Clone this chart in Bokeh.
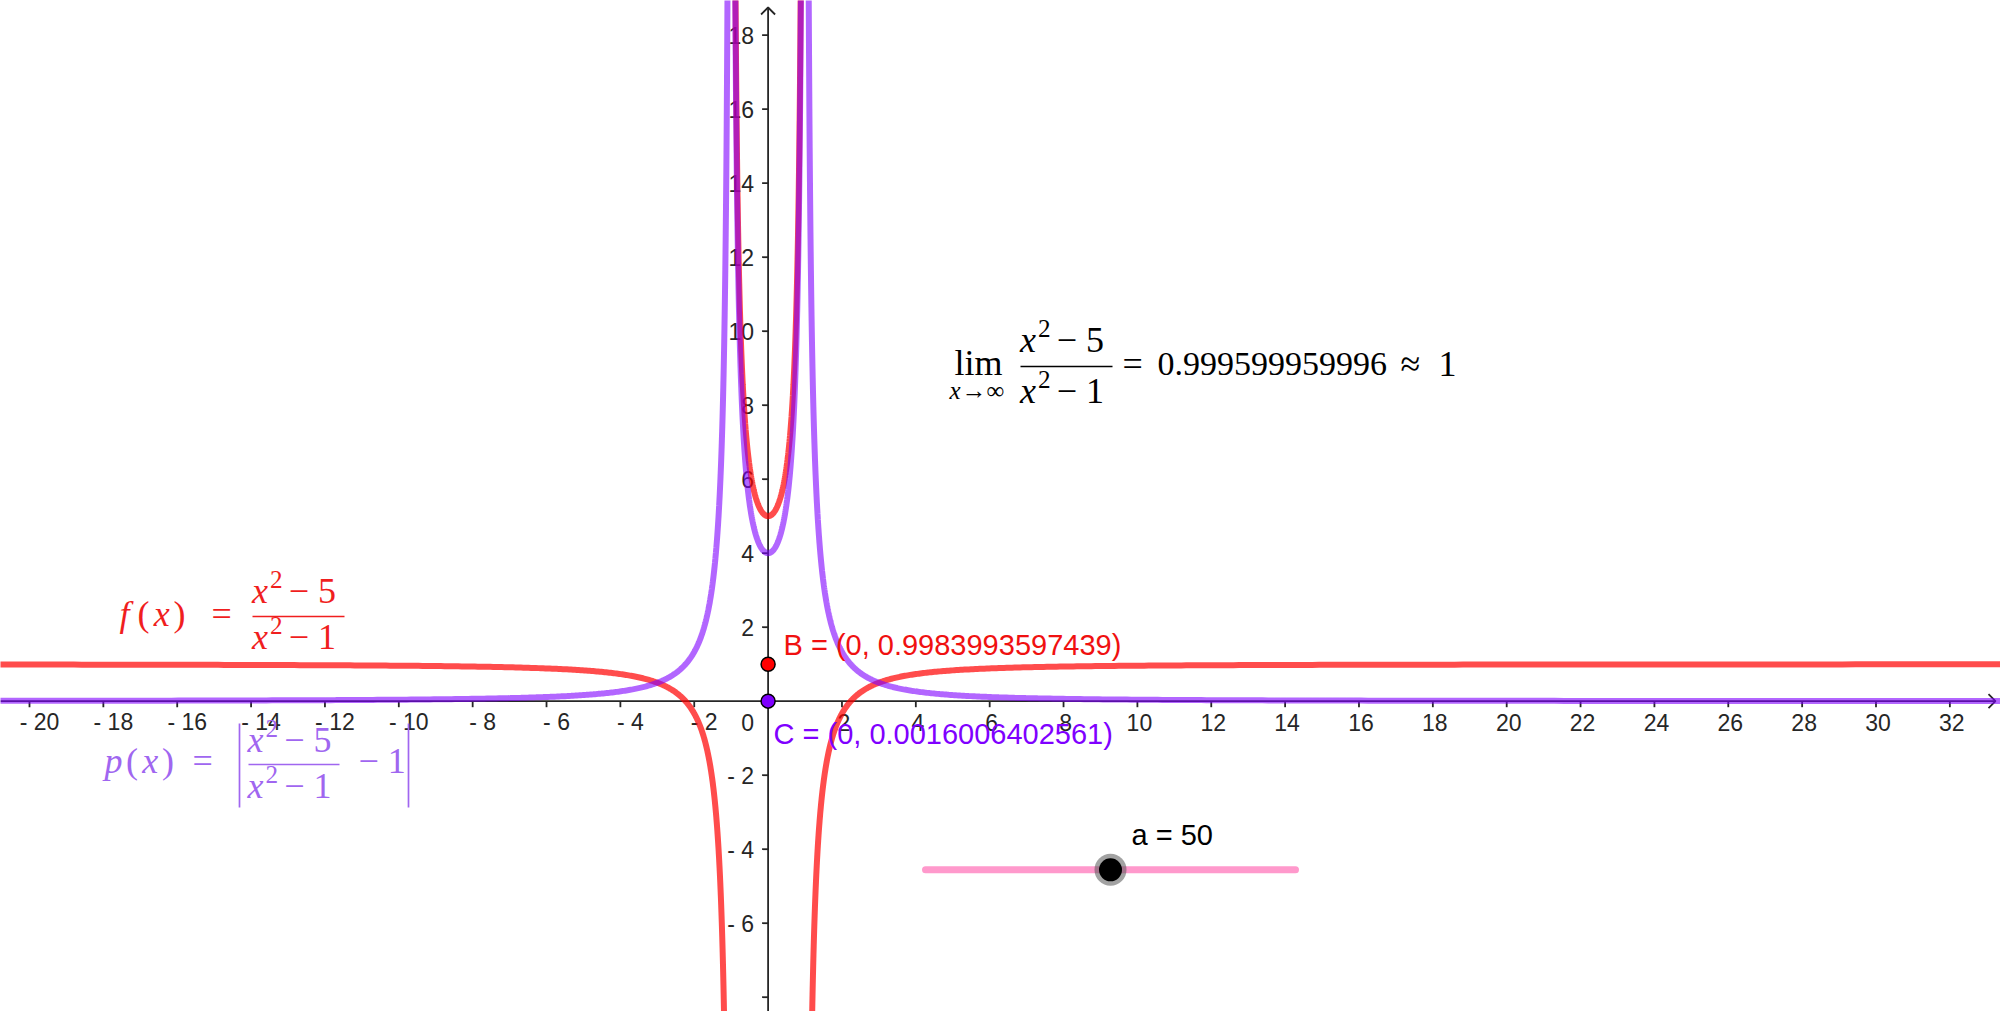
import numpy as np
from bokeh.plotting import figure
from bokeh.models import Range1d
from bokeh.core.properties import value
from bokeh.embed import file_html
from bokeh.resources import INLINE

# ---------------- data ----------------
num_const = 5.0          # f(x) = (x^2 - 5) / (x^2 - 1)
den_const = 1.0
a_value = 50             # slider value
slider_min = 0
slider_max = 100
point_b_y = 0.9983993597439   # B = (0, f(a))
point_c_y = 0.0016006402561   # C = (0, |f(a) - 1|)

x_ticks = [-20, -18, -16, -14, -12, -10, -8, -6, -4, -2,
           2, 4, 6, 8, 10, 12, 14, 16, 18, 20, 22, 24, 26, 28, 30, 32]
x_tick_labels = ["- 20", "- 18", "- 16", "- 14", "- 12", "- 10", "- 8", "- 6", "- 4", "- 2",
                 "2", "4", "6", "8", "10", "12", "14", "16", "18", "20", "22", "24", "26", "28", "30", "32"]
y_ticks = [-8, -6, -4, -2, 2, 4, 6, 8, 10, 12, 14, 16, 18]
y_tick_labels = ["", "- 6", "- 4", "- 2", "2", "4", "6", "8", "10", "12", "14", "16", "18"]

limit_value_text = "0.999599959996"
b_text = "B = (0, 0.9983993597439)"
c_text = "C = (0, 0.0016006402561)"
slider_text = "a = 50"

# ---------------- layout (page pixels -> data) ----------------
W, H, M = 2000, 1011, 0
OX, OY, SX, SY = 767.6, 700.7, 36.93, 37.0
LIFT = 0.36   # baseline correction, in em


def X(px):
    return (px - OX) / SX


def Y(py):
    return (OY - py) / SY


AXIS = "#262626"
RED = "#FF0000"
VIOLET = "#7F00FF"
SANS = value("Liberation Sans")
SERIF = value("Liberation Serif")

p = figure(width=W, height=H, x_range=Range1d(X(M), X(M + W)), y_range=Range1d(Y(M + H), Y(M)),
           output_backend="svg", toolbar_location=None, x_axis_type=None, y_axis_type=None,
           min_border=0, outline_line_color=None, background_fill_color="white",
           border_fill_color="white")
p.grid.visible = False


def stext(xs_px, base_px, texts, size, color, align="left", font=SANS):
    p.text(x=[X(v) for v in xs_px], y=[Y(b - LIFT * size) for b in base_px], text=texts,
           text_font=font, text_font_size=f"{size}px", text_color=color,
           text_align=align, text_baseline="alphabetic")


# ---------------- axes ----------------
p.segment(x0=[X(0)], y0=[0], x1=[X(1995)], y1=[0], line_color=AXIS, line_width=1.8)
p.segment(x0=[0], y0=[Y(1011)], x1=[0], y1=[Y(7)], line_color=AXIS, line_width=1.8)
p.multi_line(xs=[[X(1995 - 7), X(1995), X(1995 - 7)], [X(OX - 7), 0, X(OX + 7)]],
             ys=[[7 / SY, 0, -7 / SY], [Y(14), Y(7), Y(14)]],
             line_color=AXIS, line_width=1.8)
p.segment(x0=x_ticks, y0=[0] * len(x_ticks), x1=x_ticks, y1=[-6 / SY] * len(x_ticks),
          line_color=AXIS, line_width=1.8)
p.segment(x0=[0] * len(y_ticks), y0=y_ticks, x1=[-6 / SX] * len(y_ticks), y1=y_ticks,
          line_color=AXIS, line_width=1.8)

TFS = 23
stext([OX + t * SX + (10 if t < 0 else 2) for t in x_ticks], [730] * len(x_ticks),
      x_tick_labels, TFS, AXIS, align="center")
yl = [(t, s) for t, s in zip(y_ticks, y_tick_labels) if s]
stext([753.5] * len(yl), [OY - t * SY + 9 for t, _ in yl], [s for _, s in yl], TFS, AXIS,
      align="right")
stext([753.5], [730], ["0"], TFS, AXIS, align="right")

# ---------------- curves ----------------
left = -1 - np.geomspace(1e-3, 19.9, 800)[::-1]
t = np.geomspace(1e-3, 1, 400)
inner = np.concatenate([-1 + t, (1 - t)[::-1][1:]])
right = 1 + np.geomspace(1e-3, 32.4, 800)
xs = np.concatenate([left, [np.nan], inner, [np.nan], right])
f_raw = (xs ** 2 - num_const) / (xs ** 2 - den_const)
p_raw = np.abs(f_raw - 1)
f_y = np.clip(f_raw, -15, 25)
p_y = np.clip(p_raw, -15, 25)

p.line(xs, f_y, line_color=RED, line_alpha=0.7, line_width=6)
p.line(xs, p_y, line_color=VIOLET, line_alpha=0.6, line_width=6)


# ---------------- math texts ----------------
def run(px_left, py_base, pieces, color, size):
    """pieces: (text, italic, advance_em, scale, raise_em)"""
    x = px_left
    for piece in pieces:
        txt, italic, adv = piece[:3]
        scale = piece[3] if len(piece) > 3 else 1.0
        rise = piece[4] if len(piece) > 4 else 0.0
        fs = size * scale
        p.text(x=[X(x)], y=[Y(py_base - rise * size - LIFT * fs)], text=[txt], text_font=SERIF,
               text_font_style="italic" if italic else "normal",
               text_font_size=f"{fs:.1f}px", text_color=color,
               text_align="left", text_baseline="alphabetic")
        x += adv * size


def fraction(px0, px1, py_bar, py_num, py_den, color, size):
    for base, digit in ((py_num, "5"), (py_den, "1")):
        w = (0.50 + 0.52 + 1.564) * size
        lft = (px0 + px1) / 2 - w / 2
        run(lft, base, [("x", True, 0.50), ("2", False, 0.52, 0.7, 0.42),
                        (" \u2212 " + digit, False, 0)], color, size)
    p.segment(x0=[X(px0)], y0=[Y(py_bar)], x1=[X(px1)], y1=[Y(py_bar)],
              line_color=color, line_width=1.7)


MS = 36
# limit expression
run(954, 375, [("lim", False, 0)], "black", MS)
run(949, 399, [("x", True, 0.48), ("\u2192\u221e", False, 0)], "black", 25)
fraction(1020, 1112, 366, 352, 403, "black", MS)
run(1122, 376, [("=", False, 0)], "black", MS)
run(1157, 376, [(limit_value_text, False, 0)], "black", 34)
run(1400, 376, [("\u2248", False, 0)], "black", MS)
run(1438, 376, [("1", False, 0)], "black", MS)

# f(x) label
FRED = "#F01E1E"
run(119, 626, [("f", True, 0.50), ("(", False, 0.45), ("x", True, 0.55), (")", False, 0)], FRED, MS)
run(211, 626, [("=", False, 0)], FRED, MS)
fraction(252, 344, 616, 603, 649, FRED, MS)

# p(x) label
PV = "#A066F0"
run(104, 773, [("p", True, 0.60), ("(", False, 0.45), ("x", True, 0.55), (")", False, 0)], PV, MS)
run(192, 773, [("=", False, 0)], PV, MS)
fraction(248, 339, 764, 752, 798, PV, MS)
run(358, 773, [("\u2212 1", False, 0)], PV, MS)
p.segment(x0=[X(239), X(408)], y0=[Y(723), Y(723)], x1=[X(239), X(408)], y1=[Y(807), Y(807)],
          line_color=PV, line_width=1.7)

# ---------------- points ----------------
p.scatter(x=[0, 0], y=[point_b_y, point_c_y], size=14, fill_color=[RED, VIOLET],
          line_color="black", line_width=1.5)
stext([783], [655], [b_text], 29, "#F01010")
stext([773], [744], [c_text], 29, VIOLET)

# ---------------- slider ----------------
sx0, sx1, sy = X(925), X(1295), Y(869.3)
p.line([sx0, sx1], [sy, sy], line_color="#FF99CC", line_width=7, line_cap="round")
kx = sx0 + (a_value - slider_min) / (slider_max - slider_min) * (sx1 - sx0)
p.scatter(x=[kx], y=[sy], size=32, fill_color="#555555", fill_alpha=0.55, line_color=None)
p.scatter(x=[kx], y=[sy], size=23, fill_color="black", line_color=None)
stext([1131], [845], [slider_text], 29, "black")

open("out.html", "w").write(file_html(p, INLINE))
